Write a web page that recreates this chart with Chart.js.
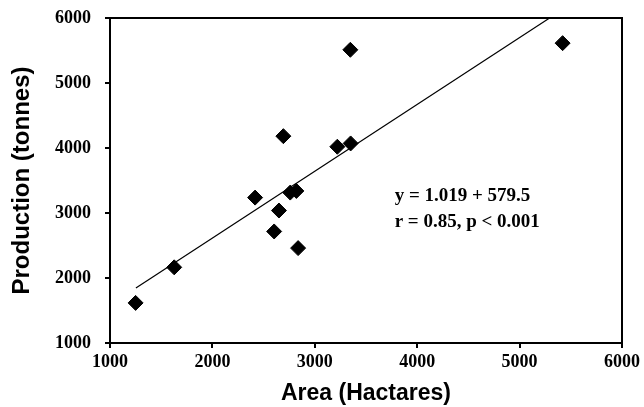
<!DOCTYPE html>
<html>
<head>
<meta charset="utf-8">
<script src="https://cdn.jsdelivr.net/npm/chart.js@4"></script>
<style>
  html, body { margin: 0; padding: 0; background: #fff; }
  #wrap { width: 644px; height: 407px; }
</style>
</head>
<body>
<div id="wrap"><canvas id="chart"></canvas></div>
<script>
// Data
const areaHa = [1250, 1627, 2417, 2693, 2650, 2603, 2760, 2820, 2837, 3220, 3350, 3347, 5420];
const prodT  = [1617, 2164, 3237, 4182, 3038, 2716, 3314, 3339, 2460, 4019, 4070, 5511, 5613];

// trend line ends (start at smallest area, clipped at top of plot)
const trendX = [1253, 5293];
const trendY = [1847, 6000];

const xTicks = [1000, 2000, 3000, 4000, 5000, 6000];
const yTicks = [1000, 2000, 3000, 4000, 5000, 6000];

const noteLines = ["y = 1.019 + 579.5", "r = 0.85, p < 0.001"];
const noteX = 3780;
const noteY = [3262, 2862];

const tickFont = { family: "'Liberation Serif', serif", size: 18, weight: "bold" };

// box around the plot
const frame = {
  id: "frame",
  afterDraw(chart) {
    const { ctx, chartArea: a } = chart;
    ctx.save();
    ctx.strokeStyle = "#000";
    ctx.lineWidth = 2;
    ctx.strokeRect(a.left, a.top, a.right - a.left, a.bottom - a.top);
    ctx.restore();
  }
};

// equation text
const note = {
  id: "note",
  afterDatasetsDraw(chart) {
    const { ctx, scales } = chart;
    ctx.save();
    ctx.fillStyle = "#000";
    ctx.font = "bold 19px 'Liberation Serif', serif";
    ctx.textBaseline = "middle";
    noteLines.forEach((t, i) => {
      ctx.fillText(t, scales.x.getPixelForValue(noteX), scales.y.getPixelForValue(noteY[i]));
    });
    ctx.restore();
  }
};

new Chart(document.getElementById("chart"), {
  type: "scatter",
  data: {
    datasets: [
      {
        label: "Fit",
        type: "line",
        data: trendX.map((x, i) => ({ x, y: trendY[i] })),
        borderColor: "#000",
        borderWidth: 1.2,
        pointRadius: 0,
        fill: false
      },
      {
        label: "Production",
        data: areaHa.map((x, i) => ({ x, y: prodT[i] })),
        pointStyle: "rectRot",
        pointRadius: 7.5,
        backgroundColor: "#000",
        borderColor: "#000",
        borderWidth: 1
      }
    ]
  },
  options: {
    responsive: true,
    maintainAspectRatio: false,
    animation: false,
    layout: { padding: { left: 0, right: 22, top: 18, bottom: 0 } },
    plugins: { legend: { display: false }, tooltip: { enabled: false } },
    scales: {
      x: {
        type: "linear",
        min: 1000, max: 6000,
        afterBuildTicks: s => { s.ticks = xTicks.map(v => ({ value: v })); },
        afterFit: s => { s.height = 64; s.paddingLeft = 0; s.paddingRight = 0; },
        grid: { drawOnChartArea: false, drawTicks: true, tickLength: 5, color: "#000", lineWidth: 2 },
        border: { color: "#000", width: 2 },
        ticks: { color: "#000", font: tickFont, padding: 4, maxRotation: 0, callback: v => String(v) },
        title: { display: true, text: "Area (Hactares)", color: "#000",
                 font: { family: "'Liberation Sans', Arial, sans-serif", size: 23, weight: "bold" },
                 padding: { top: 0, bottom: 0 } }
      },
      y: {
        type: "linear",
        min: 1000, max: 6000,
        afterBuildTicks: s => { s.ticks = yTicks.map(v => ({ value: v })); },
        afterFit: s => { s.width = 110; s.paddingTop = 0; s.paddingBottom = 0; },
        grid: { drawOnChartArea: false, drawTicks: true, tickLength: 5, color: "#000", lineWidth: 2 },
        border: { color: "#000", width: 2 },
        ticks: { color: "#000", font: tickFont, padding: 14, callback: v => String(v) },
        title: { display: true, text: "Production (tonnes)", color: "#000",
                 font: { family: "'Liberation Sans', Arial, sans-serif", size: 24, weight: "bold" },
                 padding: { top: 8, bottom: 0 } }
      }
    }
  },
  plugins: [frame, note]
});
</script>
</body>
</html>
